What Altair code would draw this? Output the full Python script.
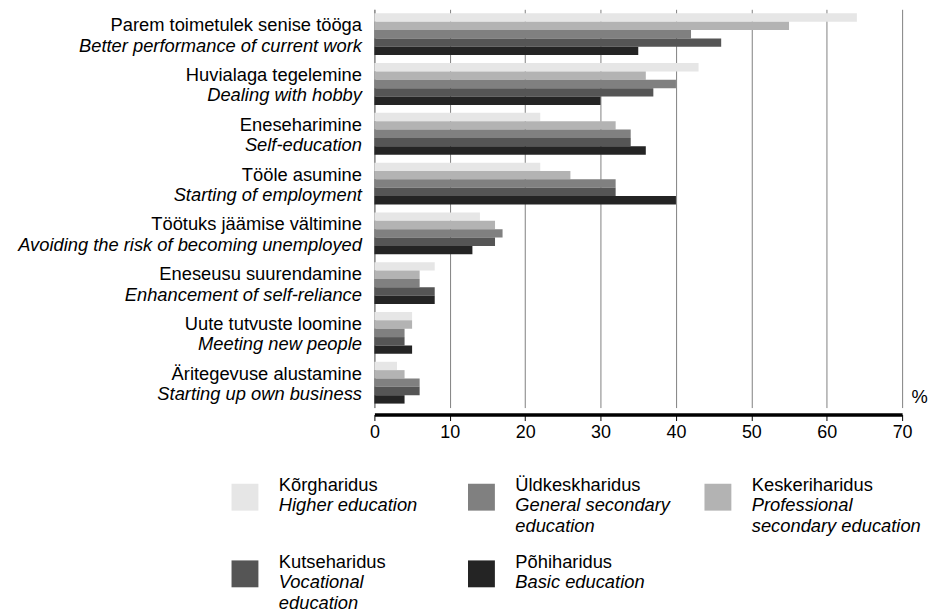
import altair as alt
import pandas as pd

# ---- data ----
categories_et = [
    "Parem toimetulek senise tööga",
    "Huvialaga tegelemine",
    "Eneseharimine",
    "Tööle asumine",
    "Töötuks jäämise vältimine",
    "Eneseusu suurendamine",
    "Uute tutvuste loomine",
    "Äritegevuse alustamine",
]
categories_en = [
    "Better performance of current work",
    "Dealing with hobby",
    "Self-education",
    "Starting of employment",
    "Avoiding the risk of becoming unemployed",
    "Enhancement of self-reliance",
    "Meeting new people",
    "Starting up own business",
]

series_et = ["Kõrgharidus", "Keskeriharidus", "Üldkeskharidus", "Kutseharidus", "Põhiharidus"]
series_en = [
    "Higher education",
    "Professional\nsecondary education",
    "General secondary\neducation",
    "Vocational\neducation",
    "Basic education",
]
series_colors = ["#e6e6e6", "#b3b3b3", "#808080", "#555555", "#242424"]

higher = [64, 43, 22, 22, 14, 8, 5, 3]
professional = [55, 36, 32, 26, 16, 6, 5, 4]
general = [42, 40, 34, 32, 17, 6, 4, 6]
vocational = [46, 37, 34, 32, 16, 8, 4, 6]
basic = [35, 30, 36, 40, 13, 8, 5, 4]

legend_order = ["Kõrgharidus", "Üldkeskharidus", "Keskeriharidus", "Kutseharidus", "Põhiharidus"]
x_ticks = [0, 10, 20, 30, 40, 50, 60, 70]

# ---- tables ----
series_values = [higher, professional, general, vocational, basic]
rows = []
for s, vals in zip(series_et, series_values):
    for c, v in zip(categories_et, vals):
        rows.append({"cat": c, "series": s, "value": v})
df = pd.DataFrame(rows)

en_df = pd.DataFrame({"en": categories_en})

en_of = dict(zip(series_et, series_en))
leg_df = pd.DataFrame({
    "et": legend_order,
    "en": [en_of[s] for s in legend_order],
})
leg_df["col"] = [i % 3 for i in range(len(legend_order))]
leg_df["row"] = [i // 3 for i in range(len(legend_order))]

# ---- styling ----
FONT = "Liberation Sans"
FS = 18.4
band = dict(paddingInner=0.16, paddingOuter=0.08)
color_scale = alt.Scale(domain=series_et, range=series_colors)

bars = alt.Chart(df).mark_bar().encode(
    y=alt.Y(
        "cat:N",
        sort=categories_et,
        scale=alt.Scale(**band),
        axis=alt.Axis(
            orient="left", title=None, ticks=False, grid=False,
            domain=True, domainColor="#808080", domainWidth=1,
            labelFont=FONT, labelFontSize=FS, labelColor="black",
            labelPadding=13, labelBaseline="alphabetic", labelOffset=-3,
            labelLimit=600,
        ),
    ),
    yOffset=alt.YOffset(
        "series:N", sort=series_et, scale=alt.Scale(paddingInner=0, paddingOuter=0)
    ),
    x=alt.X(
        "value:Q",
        scale=alt.Scale(domain=[0, 70], nice=False),
        axis=alt.Axis(
            values=x_ticks, offset=7,
            title="%", titleX=539, titleY=-12, titleAlign="left",
            titleBaseline="alphabetic", titleAngle=0, titleFont=FONT,
            titleFontSize=FS, titleFontWeight="normal", titleColor="black",
            domainColor="black", domainWidth=3.5,
            tickColor="black", tickSize=6, tickWidth=1,
            labelFont=FONT, labelFontSize=18, labelColor="black",
            labelPadding=3, labelFlush=False,
            grid=True, gridColor="#808080", gridWidth=1,
        ),
    ),
    color=alt.Color("series:N", scale=color_scale, legend=None),
)

en_axis = alt.Chart(en_df).mark_text(opacity=0).encode(
    y=alt.Y(
        "en:N",
        sort=categories_en,
        scale=alt.Scale(**band),
        axis=alt.Axis(
            orient="left", title=None, ticks=False, domain=False, grid=False,
            labelFont=FONT, labelFontSize=FS, labelFontStyle="italic",
            labelColor="black", labelPadding=13, labelBaseline="alphabetic",
            labelOffset=17, labelLimit=600,
        ),
    ),
    text=alt.value(""),
)

lx = alt.X("col:Q", scale=alt.Scale(domain=[0, 2], range=[-130, 345]), axis=None)
ly = alt.Y("row:Q", scale=alt.Scale(domain=[0, 1], range=[490, 567]), axis=None)

leg_sq = alt.Chart(leg_df).mark_square(size=729, opacity=1).encode(
    x=lx, y=ly, color=alt.Color("et:N", scale=color_scale, legend=None)
)
leg_et = alt.Chart(leg_df).mark_text(
    align="left", baseline="alphabetic", dx=34, dy=-6,
    font=FONT, fontSize=FS, color="black",
).encode(x=lx, y=ly, text="et:N")
leg_en = alt.Chart(leg_df).mark_text(
    align="left", baseline="alphabetic", dx=34, dy=14,
    font=FONT, fontSize=FS, fontStyle="italic", color="black",
    lineBreak="\n", lineHeight=21,
).encode(x=lx, y=ly, text="en:N")

chart = (
    alt.layer(bars, en_axis, leg_sq, leg_et, leg_en)
    .resolve_scale(x="independent", y="independent")
    .properties(
        width=530,
        height=400,
        autosize=alt.AutoSizeParams(type="none"),
        padding={"left": 368, "top": 0, "right": 26, "bottom": 205},
    )
    .configure_view(stroke=None)
)

chart.save("out.html", embed_options={"renderer": "svg", "actions": False})
